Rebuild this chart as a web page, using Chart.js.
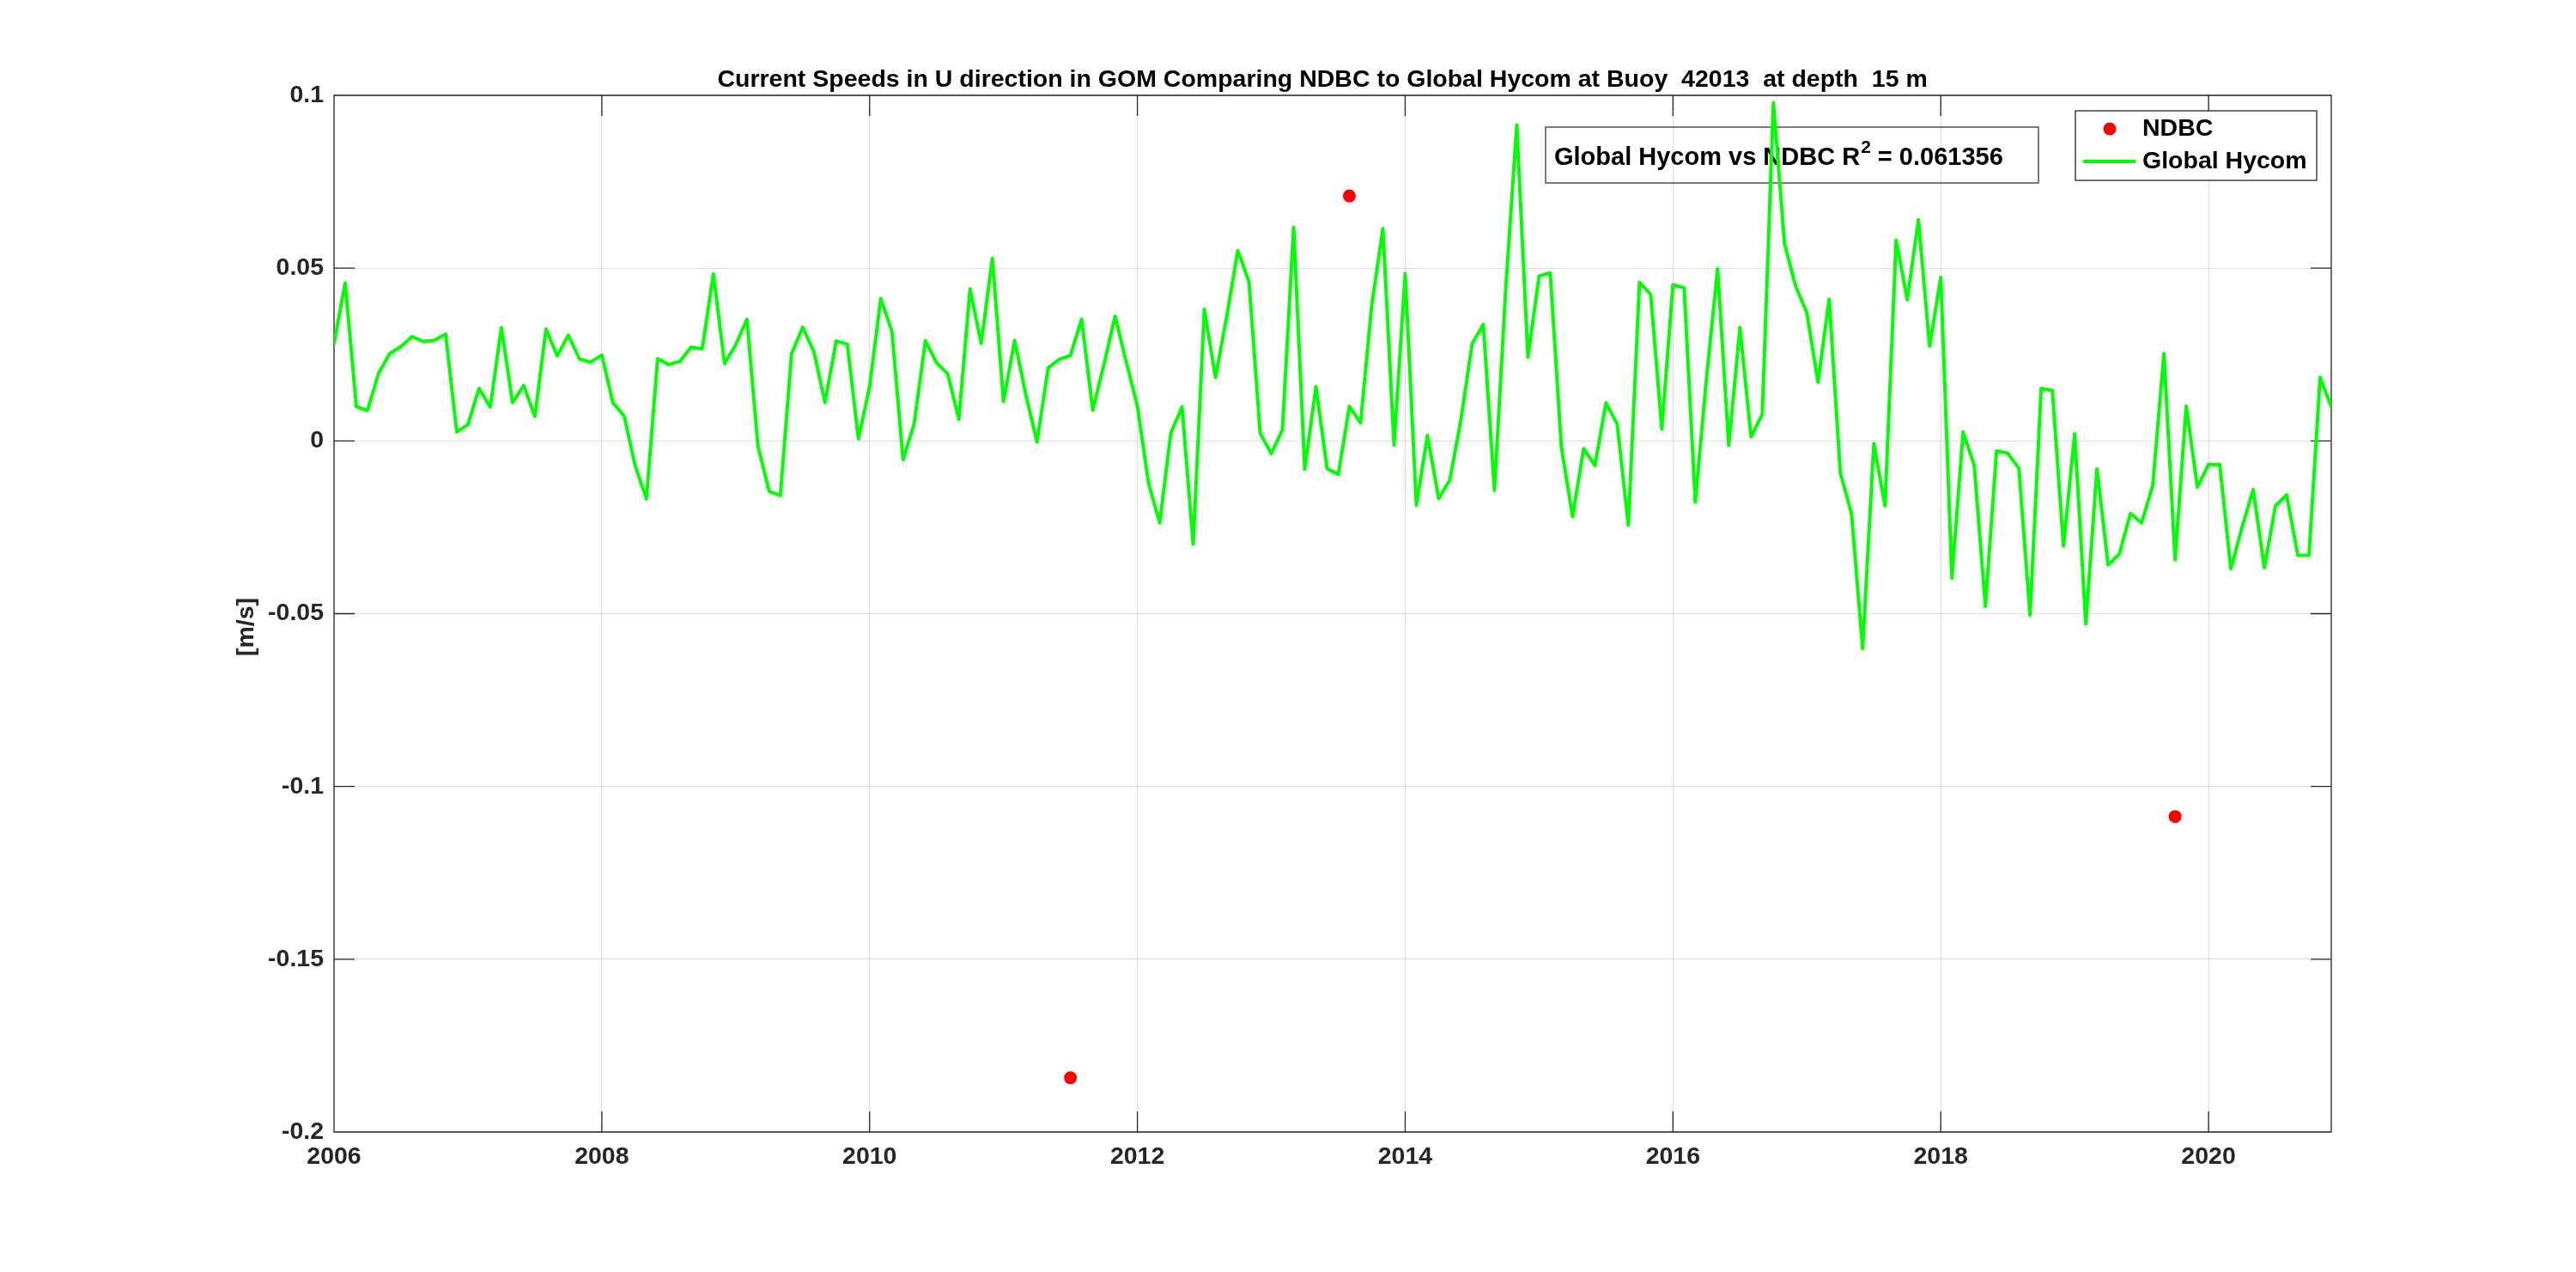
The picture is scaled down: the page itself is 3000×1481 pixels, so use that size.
<!DOCTYPE html>
<html>
<head>
<meta charset="utf-8">
<script src="https://cdn.jsdelivr.net/npm/chart.js@4/dist/chart.umd.min.js"></script>
<style>
html,body{margin:0;padding:0;background:#ffffff;}
#wrap{width:3000px;height:1481px;}
</style>
</head>
<body>
<div id="wrap"><canvas id="c" width="3000" height="1481"></canvas></div>
<script>
// ---------------- data ----------------
const titleText = 'Current Speeds in U direction in GOM Comparing NDBC to Global Hycom at Buoy  42013  at depth  15 m   ';
const yAxisLabel = '[m/s]';
const seriesNames = ['NDBC', 'Global Hycom'];
const annotationParts = ['Global Hycom vs NDBC R', '2', ' = 0.061356'];
const xTickValues = [2006, 2008, 2010, 2012, 2014, 2016, 2018, 2020];
const yTickValues = [-0.2, -0.15, -0.1, -0.05, 0, 0.05, 0.1];
const hycomStartYear = 2006;          // monthly series, Jan 2006 .. Dec 2020
const hycomValues = [
  0.0282, 0.0457, 0.0099, 0.0088, 0.0196, 0.0253, 0.0273, 0.0302, 0.0288, 0.0291, 0.0309, 0.0026,
  0.0047, 0.0152, 0.0098, 0.0328, 0.0111, 0.0160, 0.0071, 0.0324, 0.0246, 0.0306, 0.0237, 0.0228,
  0.0248, 0.0110, 0.0072, -0.0073, -0.0168, 0.0238, 0.0221, 0.0230, 0.0271, 0.0267, 0.0483, 0.0224,
  0.0278, 0.0352, -0.0016, -0.0146, -0.0158, 0.0251, 0.0329, 0.0259, 0.0111, 0.0289, 0.0280, 0.0006,
  0.0157, 0.0412, 0.0317, -0.0054, 0.0051, 0.0290, 0.0226, 0.0194, 0.0063, 0.0440, 0.0282, 0.0528,
  0.0114, 0.0291, 0.0134, -0.0003, 0.0211, 0.0236, 0.0247, 0.0352, 0.0089, 0.0221, 0.0361, 0.0229,
  0.0101, -0.0123, -0.0237, 0.0023, 0.0098, -0.0299, 0.0381, 0.0184, 0.0359, 0.0551, 0.0461, 0.0023,
  -0.0037, 0.0032, 0.0618, -0.0082, 0.0157, -0.0080, -0.0097, 0.0100, 0.0052, 0.0392, 0.0614, -0.0012,
  0.0484, -0.0186, 0.0016, -0.0167, -0.0113, 0.0062, 0.0281, 0.0337, -0.0143, 0.0434, 0.0914, 0.0242,
  0.0477, 0.0486, -0.0018, -0.0219, -0.0022, -0.0071, 0.0110, 0.0049, -0.0244, 0.0459, 0.0424, 0.0034,
  0.0452, 0.0443, -0.0177, 0.0180, 0.0498, -0.0013, 0.0328, 0.0012, 0.0077, 0.0979, 0.0570, 0.0447,
  0.0371, 0.0170, 0.0410, -0.0093, -0.0210, -0.0601, -0.0007, -0.0188, 0.0581, 0.0409, 0.0640, 0.0274,
  0.0473, -0.0397, 0.0026, -0.0071, -0.0479, -0.0029, -0.0036, -0.0079, -0.0504, 0.0152, 0.0146, -0.0304,
  0.0021, -0.0530, -0.0081, -0.0359, -0.0328, -0.0210, -0.0237, -0.0129, 0.0253, -0.0344, 0.0101, -0.0134,
  -0.0068, -0.0068, -0.0370, -0.0250, -0.0141, -0.0367, -0.0188, -0.0156, -0.0331, -0.0331, 0.0184, 0.0098
];
const ndbcDates = [2011.5, 2013.583, 2019.75];
const ndbcValues = [-0.1843, 0.0709, -0.1087];

// ---------------- styling / layout ----------------
const FONT_FAMILY = "'Liberation Sans', Arial, Helvetica, sans-serif";
const AXIS_COLOR = '#262626';
const GRID_COLOR = 'rgba(38,38,38,0.15)';
const GREEN = '#00ff00';
const RED = '#ff0000';
const BASE_FONT = 28.5;
const LAYOUT = {
  canvasW: 3000, canvasH: 1481,
  left: 389, right: 2715, top: 111, bottom: 1318,
  tickLen: 24,
  yLabel: {x: 287, y: 730},
  annBox: {x: 1800, y: 148, w: 574, h: 65, textX: 1810, baseline: 192, font: 29, supRise: 14, supSize: 21},
  legBox: {x: 2417, y: 129, w: 281, h: 81, dotX: 2457, row1: 150, row2: 188, lineX1: 2426, lineX2: 2487, textX: 2495}
};

// ---------------- build series ----------------
const hycomPoints = hycomValues.map((v, i) => ({x: hycomStartYear + i / 12, y: v}));
const ndbcPoints = ndbcDates.map((d, i) => ({x: d, y: ndbcValues[i]}));

function fmtY(v) {
  const r = Math.round(v * 1000) / 1000;
  return (Object.is(r, -0) ? 0 : r).toString();
}

const axesBoxPlugin = {
  id: 'axesBox',
  beforeDatasetsDraw(chart) {
    const {ctx, chartArea: a, scales: {x, y}} = chart;
    ctx.save();
    ctx.strokeStyle = AXIS_COLOR;
    ctx.lineWidth = 1.3;
    ctx.beginPath();
    ctx.rect(a.left, a.top, a.right - a.left, a.bottom - a.top);
    const tl = LAYOUT.tickLen;
    xTickValues.forEach(v => {
      const px = x.getPixelForValue(v);
      ctx.moveTo(px, a.bottom); ctx.lineTo(px, a.bottom - tl);
      ctx.moveTo(px, a.top); ctx.lineTo(px, a.top + tl);
    });
    yTickValues.forEach(v => {
      const py = y.getPixelForValue(v);
      ctx.moveTo(a.left, py); ctx.lineTo(a.left + tl, py);
      ctx.moveTo(a.right, py); ctx.lineTo(a.right - tl, py);
    });
    ctx.stroke();

    // y-axis label
    ctx.save();
    ctx.translate(LAYOUT.yLabel.x, LAYOUT.yLabel.y);
    ctx.rotate(-Math.PI / 2);
    ctx.fillStyle = AXIS_COLOR;
    ctx.font = `bold ${BASE_FONT}px ${FONT_FAMILY}`;
    ctx.textAlign = 'center';
    ctx.textBaseline = 'middle';
    ctx.fillText(yAxisLabel, 0, 0);
    ctx.restore();

    // annotation text box (drawn under the data line, as in the original)
    const b = LAYOUT.annBox;
    ctx.strokeStyle = '#5a5a5a';
    ctx.lineWidth = 1.6;
    ctx.strokeRect(b.x, b.y, b.w, b.h);
    ctx.fillStyle = '#000000';
    ctx.textBaseline = 'alphabetic';
    ctx.textAlign = 'left';
    ctx.font = `bold ${b.font}px ${FONT_FAMILY}`;
    let tx = b.textX;
    ctx.fillText(annotationParts[0], tx, b.baseline);
    tx += ctx.measureText(annotationParts[0]).width + 1;
    ctx.font = `bold ${b.supSize}px ${FONT_FAMILY}`;
    ctx.fillText(annotationParts[1], tx, b.baseline - b.supRise);
    tx += ctx.measureText(annotationParts[1]).width;
    ctx.font = `bold ${b.font}px ${FONT_FAMILY}`;
    ctx.fillText(annotationParts[2], tx, b.baseline);
    ctx.restore();
  }
};

const legendPlugin = {
  id: 'insideLegend',
  afterDraw(chart) {
    const ctx = chart.ctx;
    const L = LAYOUT.legBox;
    ctx.save();
    ctx.fillStyle = '#ffffff';
    ctx.fillRect(L.x, L.y, L.w, L.h);
    ctx.strokeStyle = AXIS_COLOR;
    ctx.lineWidth = 1.3;
    ctx.strokeRect(L.x, L.y, L.w, L.h);
    // NDBC marker
    ctx.fillStyle = RED;
    ctx.beginPath();
    ctx.arc(L.dotX, L.row1, 7.5, 0, Math.PI * 2);
    ctx.fill();
    // Hycom line
    ctx.strokeStyle = GREEN;
    ctx.lineWidth = 4;
    ctx.beginPath();
    ctx.moveTo(L.lineX1, L.row2); ctx.lineTo(L.lineX2, L.row2);
    ctx.stroke();
    ctx.fillStyle = '#000000';
    ctx.font = `bold ${BASE_FONT}px ${FONT_FAMILY}`;
    ctx.textAlign = 'left';
    ctx.textBaseline = 'middle';
    ctx.fillText(seriesNames[0], L.textX, L.row1);
    ctx.fillText(seriesNames[1], L.textX, L.row2);
    ctx.restore();
  }
};

new Chart(document.getElementById('c'), {
  type: 'scatter',
  data: {
    datasets: [
      {
        label: seriesNames[0],
        data: ndbcPoints,
        showLine: false,
        pointRadius: 7.5,
        pointHoverRadius: 7.5,
        pointBackgroundColor: RED,
        pointBorderColor: RED,
        pointBorderWidth: 0,
        backgroundColor: RED,
        borderColor: RED
      },
      {
        label: seriesNames[1],
        data: hycomPoints,
        showLine: true,
        borderColor: GREEN,
        backgroundColor: GREEN,
        borderWidth: 4,
        borderJoinStyle: 'round',
        borderCapStyle: 'round',
        pointRadius: 0,
        pointHoverRadius: 0,
        tension: 0,
        fill: false
      }
    ]
  },
  options: {
    responsive: false,
    devicePixelRatio: 1,
    animation: false,
    events: [],
    layout: {padding: {left: 0, top: 0, right: LAYOUT.canvasW - LAYOUT.right, bottom: 0}},
    plugins: {
      legend: {display: false},
      tooltip: {enabled: false},
      title: {
        display: true,
        text: titleText,
        fullSize: false,
        color: '#000000',
        font: {family: FONT_FAMILY, size: BASE_FONT, weight: 'bold', lineHeight: 1.2},
        padding: {top: 76.5, bottom: 0.3}
      }
    },
    scales: {
      x: {
        type: 'linear',
        min: hycomStartYear,
        max: hycomStartYear + (hycomValues.length - 1) / 12,
        afterBuildTicks: s => { s.ticks = xTickValues.map(v => ({value: v})); },
        afterFit: s => { s.height = LAYOUT.canvasH - LAYOUT.bottom; },
        grid: {color: GRID_COLOR, lineWidth: 1, drawTicks: false},
        border: {display: false},
        ticks: {
          color: AXIS_COLOR, padding: 12, maxRotation: 0, autoSkip: false,
          font: {family: FONT_FAMILY, size: BASE_FONT, weight: 'bold', lineHeight: 1.2},
          callback: v => String(v)
        }
      },
      y: {
        type: 'linear',
        min: -0.2,
        max: 0.1,
        afterBuildTicks: s => { s.ticks = yTickValues.map(v => ({value: v})); },
        afterFit: s => { s.width = LAYOUT.left; },
        grid: {color: GRID_COLOR, lineWidth: 1, drawTicks: false},
        border: {display: false},
        ticks: {
          color: AXIS_COLOR, padding: 12, autoSkip: false,
          font: {family: FONT_FAMILY, size: BASE_FONT, weight: 'bold', lineHeight: 1.2},
          callback: v => fmtY(v)
        }
      }
    }
  },
  plugins: [axesBoxPlugin, legendPlugin]
});
</script>
</body>
</html>
